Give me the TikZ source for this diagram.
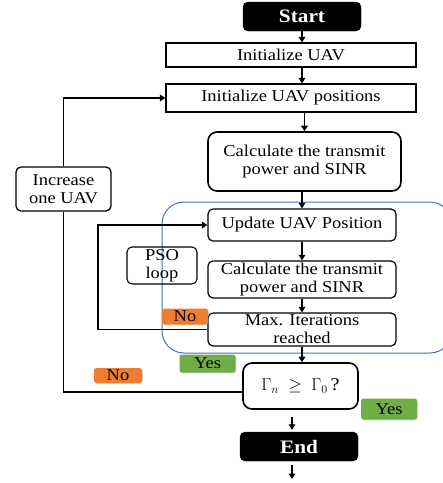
\documentclass[tikz,border=0pt]{standalone}
\usepackage{fontspec}
\setmainfont{Liberation Serif}[FakeStretch=1.12]
\usetikzlibrary{positioning, arrows.meta, shadows}

\definecolor{psoblue}{HTML}{4472C4}
\definecolor{noorange}{HTML}{ED7D31}
\definecolor{yesgreen}{HTML}{70AD47}

\begin{document}
\begin{tikzpicture}[
    x=1pt, y=-1pt,
    >={Triangle[width=6.5pt, length=5.5pt]},
    font=\fontsize{16.5}{18}\selectfont,
    terminal/.style={
        draw, fill=black, text=white, rounded corners=5pt, inner sep=0pt,
        minimum width=118pt, minimum height=29pt, font=\fontsize{19}{21}\selectfont\bfseries
    },
    plainbox/.style={
        draw, line width=1.1pt, inner sep=0pt, minimum width=250pt, align=center
    },
    process/.style={
        draw, line width=1.2pt, rounded corners=5pt, inner sep=0pt,
        minimum width=188pt, align=center
    },
    bigprocess/.style={
        draw, line width=1.6pt, rounded corners=9pt, inner sep=0pt, align=center
    },
    tag/.style={
        rounded corners=2.5pt, inner sep=0pt, drop shadow={opacity=0.3, shadow xshift=0.8pt, shadow yshift=-0.8pt}
    },
    notag/.style={tag, fill=noorange, minimum width=46pt, minimum height=16pt},
    yestag/.style={tag, fill=yesgreen, minimum width=56pt, minimum height=18pt},
    arrow/.style={draw, line width=1.3pt, ->},
    line/.style={draw, line width=1.3pt, -}
]

\useasboundingbox (0,0) rectangle (443,483);

% ==========================================
% PSO REGION
% ==========================================

\begin{scope}
    \clip (0,0) rectangle (443,483);
    \draw[psoblue, line width=1pt, rounded corners=22pt] (162,202) rectangle (452,353);
\end{scope}

% ==========================================
% MAIN FLOW
% ==========================================

\node[terminal] (Start) at (302, 16.5) {Start};

\node[plainbox, minimum height=24pt] (InitUAV) at (291, 55) {Initialize UAV};

\node[plainbox, minimum height=28pt] (InitPos) at (291, 98) {Initialize UAV positions};

\node[bigprocess, minimum width=193pt, minimum height=59pt] (CalcA) at (304.5, 161.5) {Calculate the transmit \\ power and SINR};

\node[process, minimum height=32pt] (Update) at (302, 225) {Update UAV Position};

\node[process, minimum height=37pt] (CalcB) at (302, 279.5) {Calculate the transmit \\ power and SINR};

\node[process, minimum height=33pt] (MaxIter) at (302, 329.5) {Max. Iterations \\ reached};

\node[bigprocess, minimum width=115pt, minimum height=46pt] (Gamma) at (300.5, 386) {\fontsize{18}{20}\selectfont$\Gamma_n \;\geq\; \Gamma_0\,$?};

\node[terminal] (End) at (299, 446.5) {End};
\coordinate (Out) at (292, 479);

\draw[arrow] (Start.south) -- (Start.south |- InitUAV.north);
\draw[arrow] (InitUAV.south -| Start) -- (InitPos.north -| Start);
\draw[arrow] (InitPos.south -| CalcA) -- (CalcA.north);
\draw[arrow] (CalcA.south -| Update) -- (Update.north);
\draw[arrow] (Update.south) -- (CalcB.north);
\draw[arrow] (CalcB.south) -- (MaxIter.north);
\draw[arrow] (MaxIter.south) -- (MaxIter.south |- Gamma.north);
\draw[arrow, shorten <=7pt, shorten >=2pt] (Gamma.south -| Out) -- (End.north -| Out);
\draw[arrow] (End.south -| Out) ++(0,4) -- (Out);

% ==========================================
% LOOPS
% ==========================================

% PSO loop
\node[process, minimum width=70pt, minimum height=37pt, line width=1.1pt] (PSO) at (162, 265.5) {PSO \\ loop};
\coordinate (PSOTurn) at (98, 0);
\draw[arrow] (MaxIter.west) -- (MaxIter.west -| PSOTurn) |- (Update.west);

% outer loop
\node[process, minimum width=95pt, minimum height=44pt, line width=1.3pt] (Increase) at (63.5, 189) {Increase \\ one UAV};
\draw[line] ([yshift=-6pt]Gamma.west) -| (Increase.south);
\draw[arrow] (Increase.north) |- (InitPos.west);

% ==========================================
% DECISION TAGS
% ==========================================

\node[notag] (NoPSO) at (185, 316.5) {No};
\node[yestag] (YesPSO) at (207.5, 363.5) {Yes};
\node[notag, minimum width=48pt, minimum height=15pt] (NoGamma) at (118, 375.5) {No};
\node[yestag, minimum height=21pt] (YesGamma) at (389, 409) {Yes};

\end{tikzpicture}
\end{document}
